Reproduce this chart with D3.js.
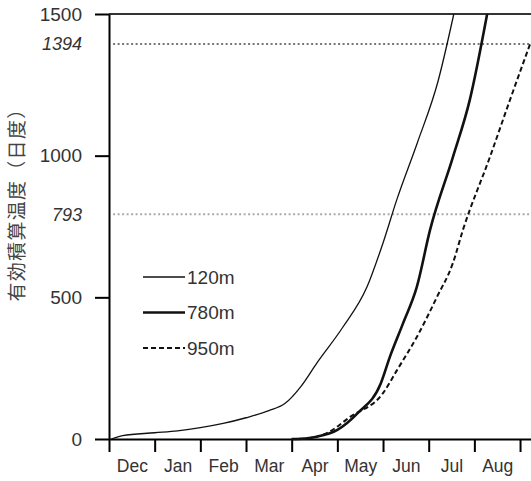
<!DOCTYPE html>
<html>
<head>
<meta charset="utf-8">
<script src="https://cdn.jsdelivr.net/npm/d3@7"></script>
<style>
  html, body { margin: 0; padding: 0; background: #fff; }
  svg { display: block; }
  text { font-family: "Liberation Sans", Arial, sans-serif; fill: #333; }
</style>
</head>
<body>
<div id="chart"></div>
<script>
// --- Data (x = months since 1 Dec) ---
const months = ['Dec', 'Jan', 'Feb', 'Mar', 'Apr', 'May', 'Jun', 'Jul', 'Aug'];
const yTicks = [0, 500, 1000, 1500];
const refLines = [1394, 793];

const s120 = [
    [0.05, 0], [0.3, 12], [1, 22], [1.5, 29], [2, 40], [2.5, 55], [3, 75], [3.5, 100],
    [3.85, 125], [4.2, 185], [4.55, 268], [5.1, 390], [5.65, 537], [6.0, 692],
    [6.3, 844], [6.75, 1045], [7.2, 1260], [7.55, 1500]
];
const s780 = [
    [4.0, 0], [4.3, 2], [4.55, 8], [5.0, 32], [5.45, 92], [5.95, 196], [6.15, 290],
    [6.44, 409], [6.74, 537], [7.03, 738], [7.53, 995], [7.9, 1197], [8.28, 1500]
];
const s950 = [
    [4.0, 0], [4.3, 2], [4.77, 21], [5.28, 78], [6.0, 162], [6.31, 244], [6.74, 360],
    [7.18, 501], [7.53, 621], [7.75, 738], [8.34, 995], [8.78, 1197], [9.22, 1394]
];

const series = [
    { name: '120m', values: s120, width: 1.3, dash: null },
    { name: '780m', values: s780, width: 2.6, dash: null },
    { name: '950m', values: s950, width: 2, dash: '5,3' }
];

const width = 531, height = 481;

const svg = d3.select('#chart').append('svg')
    .attr('width', width)
    .attr('height', height);

const x = d3.scaleLinear().domain([0, 9.24]).range([109, 531]);
const y = d3.scaleLinear().domain([0, 1500]).range([439, 14]);

// reference lines (dotted)
svg.selectAll('.ref')
    .data(refLines)
    .enter().append('line')
    .attr('class', 'ref')
    .attr('x1', x(0.09)).attr('x2', x(9.24))
    .attr('y1', d => y(d)).attr('y2', d => y(d))
    .attr('stroke', (d, i) => i === 0 ? '#777' : '#aaa')
    .attr('stroke-width', 2)
    .attr('stroke-dasharray', '2,2.5');

svg.selectAll('.ref-label')
    .data(refLines)
    .enter().append('text')
    .attr('class', 'ref-label')
    .attr('x', 82)
    .attr('y', d => y(d))
    .attr('dy', '0.35em')
    .attr('text-anchor', 'end')
    .attr('font-size', 18)
    .attr('font-style', 'italic')
    .text(d => d);

// top frame line
svg.append('line')
    .attr('x1', x(0)).attr('x2', x(9.24))
    .attr('y1', y(1500)).attr('y2', y(1500))
    .attr('stroke', '#333')
    .attr('stroke-width', 2);

// y axis
const yAxis = svg.append('g')
    .attr('transform', `translate(${x(0)},0)`)
    .call(d3.axisLeft(y).tickValues(yTicks).tickSize(14).tickSizeOuter(0).tickPadding(13)
        .tickFormat(d3.format('d')));
yAxis.selectAll('text').attr('font-size', 19).attr('font-family', null);
yAxis.selectAll('line').attr('stroke-width', 2);
yAxis.select('.domain').attr('stroke-width', 2);

// x axis: month boundaries
const xAxis = svg.append('g')
    .attr('transform', `translate(0,${y(0)})`)
    .call(d3.axisBottom(x).tickValues(d3.range(0, 10)).tickSize(13).tickSizeOuter(0).tickFormat(''));
xAxis.selectAll('line').attr('stroke-width', 2);
xAxis.select('.domain').attr('stroke-width', 2);

// x axis: month labels centred in each month
const xLabels = svg.append('g')
    .attr('transform', `translate(0,${y(0)})`)
    .call(d3.axisBottom(x).tickValues(months.map((m, i) => i + 0.5)).tickSize(0).tickPadding(21)
        .tickFormat((d, i) => months[i]));
xLabels.select('.domain').remove();
xLabels.selectAll('text').attr('font-size', 17.5).attr('font-family', null);

// y axis title
svg.append('text')
    .attr('transform', `translate(24,${(98 + 302) / 2}) rotate(-90)`)
    .attr('text-anchor', 'middle')
    .attr('font-size', 19)
    .attr('letter-spacing', 1.3)
    .style('font-family', '"Noto Sans CJK JP", sans-serif')
    .style('fill', '#444')
    .text('有効積算温度（日度）');

// curves
const line = d3.line()
    .x(d => x(d[0]))
    .y(d => y(d[1]))
    .curve(d3.curveMonotoneX);

svg.selectAll('.series')
    .data(series)
    .enter().append('path')
    .attr('class', 'series')
    .attr('d', d => line(d.values))
    .attr('fill', 'none')
    .attr('stroke', '#111')
    .attr('stroke-width', d => d.width)
    .attr('stroke-dasharray', d => d.dash);

// legend
const legend = svg.selectAll('.legend')
    .data(series)
    .enter().append('g')
    .attr('class', 'legend')
    .attr('transform', (d, i) => `translate(143,${277 + i * 35.5})`);

legend.append('line')
    .attr('x1', 0).attr('x2', 42)
    .attr('stroke', '#111')
    .attr('stroke-width', d => d.width)
    .attr('stroke-dasharray', d => d.dash);

legend.append('text')
    .attr('x', 44)
    .attr('dy', '0.36em')
    .attr('font-size', 19)
    .text(d => d.name);
</script>
</body>
</html>
